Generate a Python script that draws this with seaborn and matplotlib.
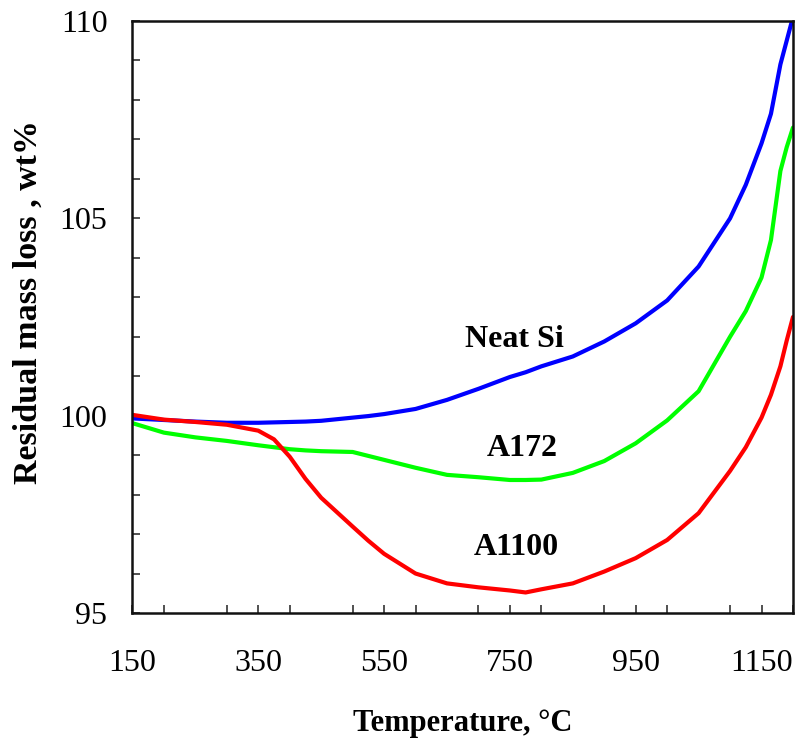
import matplotlib
matplotlib.use("Agg")
import matplotlib.pyplot as plt
import seaborn as sns
import pandas as pd
from matplotlib.ticker import MultipleLocator, FixedLocator

temperature = [150, 200, 250, 300, 350, 375, 400, 425, 450, 500, 525, 550, 600, 650, 700,
               750, 775, 800, 850, 900, 950, 1000, 1050, 1100, 1125, 1150, 1165, 1180, 1190, 1200]
neat_si = [99.93, 99.89, 99.85, 99.82, 99.82, 99.83, 99.84, 99.85, 99.87, 99.95, 99.99, 100.04,
           100.17, 100.40, 100.68, 100.98, 101.10, 101.25, 101.50, 101.88, 102.34, 102.92, 103.78,
           105.0, 105.85, 106.9, 107.65, 108.9, 109.5, 110.1]
a172 = [99.81, 99.57, 99.45, 99.36, 99.25, 99.20, 99.15, 99.12, 99.10, 99.08, 98.98, 98.88,
        98.68, 98.50, 98.44, 98.37, 98.37, 98.38, 98.55, 98.85, 99.30, 99.88, 100.62,
        102.0, 102.65, 103.5, 104.45, 106.2, 106.8, 107.3]
a1100 = [100.02, 99.90, 99.84, 99.77, 99.62, 99.40, 98.96, 98.40, 97.92, 97.19, 96.83, 96.50,
         96.00, 95.75, 95.65, 95.57, 95.52, 95.60, 95.75, 96.05, 96.39, 96.85, 97.53,
         98.6, 99.2, 99.95, 100.53, 101.25, 101.9, 102.5]

series_names = ["Neat Si", "A172", "A1100"]
series_colors = ["#0000ff", "#00ff00", "#ff0000"]
x_ticks = [150, 350, 550, 750, 950, 1150]
y_ticks = [95, 100, 105, 110]

df = pd.concat([
    pd.DataFrame({"T": temperature, "mass": vals, "series": name})
    for name, vals in zip(series_names, [neat_si, a172, a1100])
])

sns.set_style("white")
plt.rcParams["font.family"] = ["Liberation Serif", "DejaVu Serif"]
plt.rcParams["text.color"] = "black"
plt.rcParams["axes.labelcolor"] = "black"
plt.rcParams["xtick.color"] = "black"
plt.rcParams["ytick.color"] = "black"

fig = plt.figure(figsize=(7.98, 7.38), dpi=100)
ax = fig.add_axes([0.166, 0.1694, 0.8277, 0.8021])

sns.lineplot(data=df, x="T", y="mass", hue="series", palette=dict(zip(series_names, series_colors)),
             linewidth=3.0, ax=ax, legend=False, sort=True)

ax.set_xlim(150, 1200)
ax.set_ylim(95, 110)
ax.xaxis.set_major_locator(FixedLocator(x_ticks))
ax.xaxis.set_minor_locator(MultipleLocator(100))
ax.yaxis.set_major_locator(FixedLocator(y_ticks))
ax.yaxis.set_minor_locator(MultipleLocator(1))
ax.tick_params(axis="both", which="both", direction="in", color="#333333", width=1.2)
ax.tick_params(axis="both", which="major", length=6, labelsize=23, labelcolor="black")
ax.tick_params(axis="both", which="minor", length=5.5)
ax.tick_params(axis="x", which="major", pad=26)
ax.tick_params(axis="y", which="major", pad=18)
ax.xaxis.set_ticks_position("bottom")
ax.yaxis.set_ticks_position("left")
for sp in ax.spines.values():
    sp.set_linewidth(1.8)
    sp.set_color("#111111")

ax.set_xlabel("Temperature, \u00b0C", fontsize=22, fontweight="bold", labelpad=22, color="black")
ax.set_ylabel("Residual mass loss , wt%", fontsize=24.5, fontweight="bold", color="black")
ax.yaxis.set_label_coords(-0.134, 0.525)

ax.text(757, 101.92, "Neat Si", fontsize=23, fontweight="bold", ha="center", va="center", color="black")
ax.text(769, 99.18, "A172", fontsize=23, fontweight="bold", ha="center", va="center", color="black")
ax.text(760, 96.65, "A1100", fontsize=23, fontweight="bold", ha="center", va="center", color="black")

fig.savefig("out.png", dpi=100)
